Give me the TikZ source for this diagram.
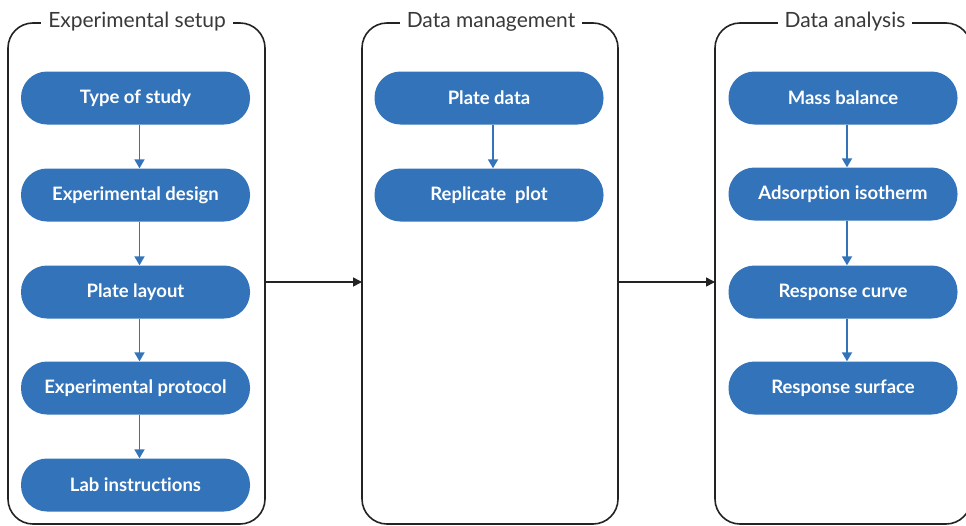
\documentclass[tikz,border=0pt]{standalone}
\usepackage{fontspec}
\setmainfont{Lato}[RawFeature={-liga;-dlig}]
\usetikzlibrary{arrows.meta}
\definecolor{boxblue}{RGB}{50,115,186}
\definecolor{frame}{RGB}{35,35,35}
\tikzset{
  panel/.style={draw=frame, line width=1.6pt, rounded corners=25pt},
  ptitle/.style={fill=white, inner xsep=7pt, inner ysep=2pt, text=frame!90, font=\fontsize{21}{24}\selectfont},
  stepbox/.style={fill=boxblue, rounded corners=26pt, minimum width=229pt, minimum height=53pt, text=white, font=\bfseries\fontsize{18.5}{22}\selectfont, inner sep=0pt},
  flow/.style={draw=boxblue, line width=1.8pt, -{Triangle[length=9pt,width=10pt]}},
  link/.style={draw=frame, line width=1.6pt, -{Triangle[length=9pt,width=9pt]}}
}
\begin{document}
\begin{tikzpicture}[x=1pt,y=-1pt]
\useasboundingbox (0,0) rectangle (966,525);
\clip (0,0) rectangle (966,525);
% panels
\draw[panel] (8,23) rectangle (265,524);
\draw[panel] (362,23) rectangle (618,524);
\draw[panel] (715,23) rectangle (971,524);
\node[ptitle] (t1) at (137,22) {Experimental setup};
\node[ptitle] (t2) at (491,22) {Data management};
\node[ptitle] (t3) at (845,22) {Data analysis};
\coordinate (p1r) at (265,282);
\coordinate (p2l) at (362,282);
\coordinate (p2r) at (618,282);
\coordinate (p3l) at (715,282);
% panel 1
\node[stepbox] (a1) at (135.5,98) {Type of study};
\node[stepbox] (a2) at (135.5,195) {Experimental design};
\node[stepbox] (a3) at (135.5,292) {Plate layout};
\node[stepbox] (a4) at (135.5,388) {Experimental protocol};
\node[stepbox] (a5) at (135.5,485) {Lab instructions};
% panel 2
\node[stepbox] (b1) at (489,98) {Plate data};
\node[stepbox] (b2) at (489,195) {Replicate\ \ plot};
% panel 3
\node[stepbox] (c1) at (843,98) {Mass balance};
\node[stepbox] (c2) at (843,194) {Adsorption isotherm};
\node[stepbox] (c3) at (843,292) {Response curve};
\node[stepbox] (c4) at (843,388) {Response surface};
% arrows
\draw[flow] ([xshift=4pt]a1.south) -- ([xshift=4pt]a2.north);
\draw[flow] ([xshift=4pt]a2.south) -- ([xshift=4pt]a3.north);
\draw[flow] ([xshift=4pt]a3.south) -- ([xshift=4pt]a4.north);
\draw[flow] ([xshift=4pt]a4.south) -- ([xshift=4pt]a5.north);
\draw[flow] ([xshift=4pt]b1.south) -- ([xshift=4pt]b2.north);
\draw[flow] ([xshift=4pt]c1.south) -- ([xshift=4pt]c2.north);
\draw[flow] ([xshift=4pt]c2.south) -- ([xshift=4pt]c3.north);
\draw[flow] ([xshift=4pt]c3.south) -- ([xshift=4pt]c4.north);
\draw[link] (p1r) -- (p2l);
\draw[link] (p2r) -- (p3l);
\end{tikzpicture}
\end{document}
